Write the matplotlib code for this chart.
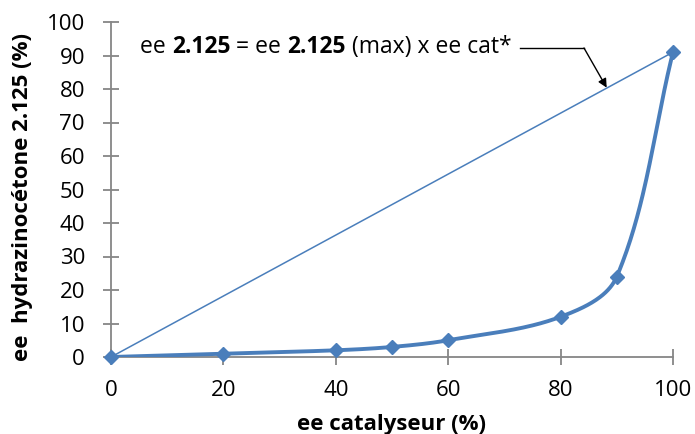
import numpy as np
import matplotlib
matplotlib.use("Agg")
import matplotlib.pyplot as plt

ee_cat = [0, 20, 40, 50, 60, 80, 90, 100]
ee_product = [0, 1, 2, 3, 5, 12, 24, 91]
ideal_x = [0, 100]
ideal_y = [0, 91]
x_ticks = [0, 20, 40, 60, 80, 100]
y_ticks = list(range(0, 101, 10))

BLUE = "#4a7ebb"
GRAY = "#868686"
FONT = "Open Sans"
FS = 16

W, H = 695, 434
L, R, T, B = 111, 673, 22, 357

def smooth(x, y, sx, sy, n=60):
    # Bezier smoothing in display space, tangent length proportional to segment length
    P = np.column_stack([np.asarray(x, float) * sx, np.asarray(y, float) * sy])
    out = [P[0]]
    m = len(P)
    tang = []
    for i in range(m):
        a = P[max(i - 1, 0)]; b = P[min(i + 1, m - 1)]
        d = b - a
        tang.append(d / np.linalg.norm(d))
    for i in range(m - 1):
        p1, p2 = P[i], P[i + 1]
        seg_len = np.linalg.norm(p2 - p1)
        c1 = p1 + tang[i] * seg_len / 3.0
        c2 = p2 - tang[i + 1] * seg_len / 3.0
        t = np.linspace(0, 1, n)[1:, None]
        seg = ((1 - t) ** 3) * p1 + 3 * ((1 - t) ** 2) * t * c1 + 3 * (1 - t) * t ** 2 * c2 + t ** 3 * p2
        out.extend(seg)
    out = np.array(out)
    return out[:, 0] / sx, out[:, 1] / sy

fig = plt.figure(figsize=(W / 100, H / 100), dpi=100)
ax = fig.add_axes([L / W, 1 - B / H, (R - L) / W, (B - T) / H])

ax.plot(ideal_x, ideal_y, color=BLUE, lw=1.1, zorder=2)
cx, cy = smooth(ee_cat, ee_product, (R - L) / 100.0, (B - T) / 100.0)
ax.plot(cx, cy, color=BLUE, lw=2.8, zorder=3, solid_capstyle="round")
ax.plot(ee_cat, ee_product, ls="none", marker="D", ms=7.5, color=BLUE, zorder=4, clip_on=False)

ax.set_xlim(0, 100)
ax.set_ylim(0, 100)
ax.set_xticks(x_ticks)
ax.set_yticks(y_ticks)
for s in ["top", "right"]:
    ax.spines[s].set_visible(False)
for s in ["left", "bottom"]:
    ax.spines[s].set_color(GRAY)
    ax.spines[s].set_linewidth(1.3)
ax.tick_params(direction="inout", length=11.5, width=1.3, color=GRAY, labelsize=FS)
ax.tick_params(axis="y", pad=13)
ax.tick_params(axis="x", pad=11)
for lab in ax.get_xticklabels() + ax.get_yticklabels():
    lab.set_fontfamily(FONT)

ax.set_xlabel("ee catalyseur (%)", fontsize=FS, fontweight="bold", family=FONT, va="baseline")
ax.xaxis.set_label_coords(0.499, -(430 - B) / (B - T))
ax.set_ylabel("ee  hydrazinocétone 2.125 (%)", fontsize=FS, fontweight="bold", family=FONT, va="center")
ax.yaxis.set_label_coords((23 - L) / (R - L), (B - 197) / (B - T))

# annotation text with mixed bold
pieces = [("ee ", "normal"), ("2.125", "bold"), (" = ee ", "normal"), ("2.125", "bold"),
          (" (max) x ee cat*", "normal")]
fig.canvas.draw()
renderer = fig.canvas.get_renderer()
x_px = 140
y_px = H - 47
for txt, w in pieces:
    t = fig.text(x_px / W, y_px / H, txt, fontsize=16.5, fontweight=w, family=FONT,
                 va="center", ha="left")
    bb = t.get_window_extent(renderer)
    x_px = bb.x1
end_px = x_px + 9
fig.add_artist(plt.Line2D([end_px / W, 584 / W], [1 - 48 / H, 1 - 48 / H],
                          color="black", lw=1.0, transform=fig.transFigure))
ax.annotate("", xy=(88.2, 80.4), xycoords="data",
            xytext=(584 / W, 1 - 48 / H), textcoords="figure fraction",
            arrowprops=dict(arrowstyle="-|>", color="black", lw=1.0, mutation_scale=13,
                            shrinkA=0, shrinkB=0))

fig.savefig("out.png", dpi=100)
